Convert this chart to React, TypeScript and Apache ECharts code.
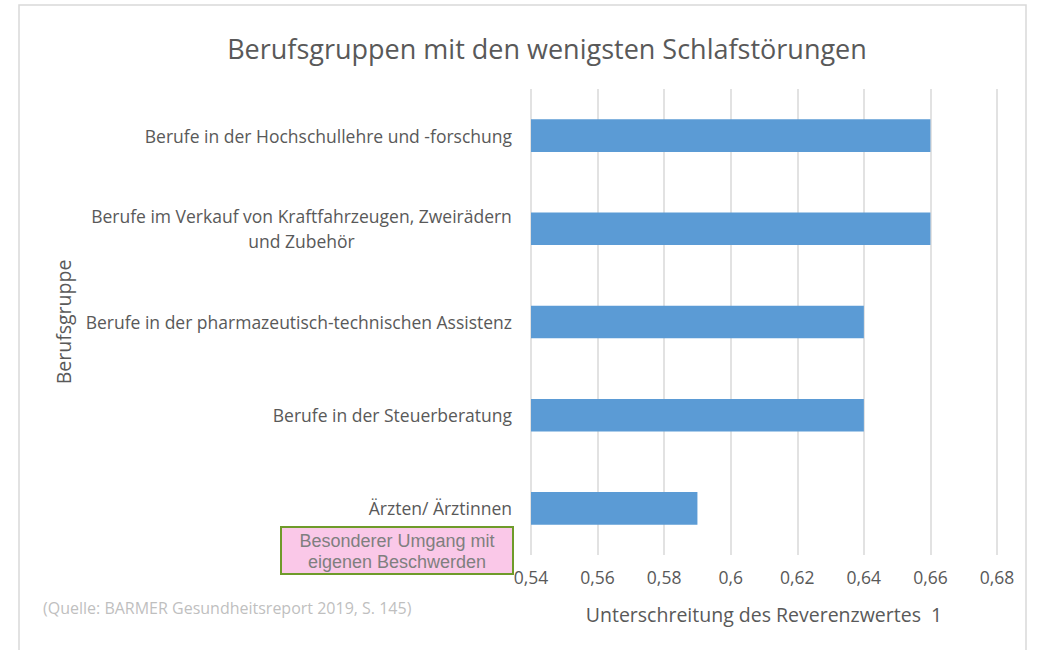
import React, { useEffect, useRef } from "react";
import * as echarts from "echarts";

const categories = [
  "Berufe in der Hochschullehre und -forschung",
  "Berufe im Verkauf von Kraftfahrzeugen, Zweirädern\nund Zubehör",
  "Berufe in der pharmazeutisch-technischen Assistenz",
  "Berufe in der Steuerberatung",
  "Ärzten/ Ärztinnen",
];
const values = [0.66, 0.66, 0.64, 0.64, 0.59];
const titleText = "Berufsgruppen mit den wenigsten Schlafstörungen";
const xAxisName = "Unterschreitung des Reverenzwertes  1";
const yAxisName = "Berufsgruppe";
const sourceText = "(Quelle: BARMER Gesundheitsreport 2019, S. 145)";
const noteText = "Besonderer Umgang mit\neigenen Beschwerden";

const FONT = "'Open Sans', sans-serif";
const LABEL_SIZE = 17.5;

function measure(text: string, size: number, family: string): number {
  const c = document.createElement("canvas").getContext("2d");
  if (!c) return text.length * size * 0.55;
  c.font = size + "px " + family;
  return c.measureText(text).width;
}

export default function App() {
  const ref = useRef<HTMLDivElement>(null);
  useEffect(() => {
    if (!ref.current) return;
    const chart = echarts.init(ref.current, null, { renderer: "svg" });
    chart.setOption({
      animation: false,
      backgroundColor: "#ffffff",
      title: {
        text: titleText,
        left: 542,
        top: 30,
        textAlign: "center",
        textStyle: { fontFamily: FONT, fontSize: 27, fontWeight: "normal", color: "#595959" },
      },
      grid: { left: 531, right: 47, top: 89, bottom: 95 },
      xAxis: {
        type: "value",
        min: 0.54,
        max: 0.68,
        interval: 0.02,
        name: xAxisName,
        nameLocation: "middle",
        nameGap: 49,
        nameTextStyle: { fontFamily: FONT, fontSize: 19.5, color: "#595959" },
        axisLine: { show: false },
        axisTick: { show: false },
        axisLabel: {
          fontFamily: FONT,
          fontSize: LABEL_SIZE,
          color: "#595959",
          margin: 13,
          formatter: (v: number) => String(Math.round(v * 100) / 100).replace(".", ","),
        },
        splitLine: { show: true, lineStyle: { color: "#d9d9d9", width: 1.5 } },
      },
      yAxis: {
        type: "category",
        inverse: true,
        data: categories,
        name: yAxisName,
        nameLocation: "middle",
        nameGap: 458,
        nameRotate: 90,
        nameTextStyle: { fontFamily: FONT, fontSize: 19.5, color: "#595959" },
        axisLine: { show: false },
        axisTick: { show: false },
        axisLabel: {
          fontFamily: FONT,
          fontSize: LABEL_SIZE,
          color: "#595959",
          margin: 19,
          lineHeight: 25,
          formatter: (v: string) => {
            if (v.indexOf("\n") >= 0) {
              const lines = v.split("\n");
              const w = Math.max(...lines.map((s) => measure(s, LABEL_SIZE, FONT)));
              return lines.map((s) => "{c" + Math.ceil(w) + "|" + s + "}").join("\n");
            }
            return v;
          },
          rich: (() => {
            const lines = categories.filter((c) => c.indexOf("\n") >= 0).map((c) => c.split("\n"));
            const r: Record<string, any> = {};
            lines.forEach((ls) => {
              const w = Math.ceil(Math.max(...ls.map((s) => measure(s, LABEL_SIZE, FONT))));
              r["c" + w] = {
                fontFamily: FONT,
                fontSize: LABEL_SIZE,
                color: "#595959",
                width: w,
                align: "center",
                lineHeight: 25,
              };
            });
            return r;
          })(),
        },
        splitLine: { show: false },
      },
      series: [
        {
          type: "bar",
          data: values,
          barWidth: "35%",
          itemStyle: { color: "#5B9BD5" },
        },
      ],
      graphic: [
        {
          type: "rect",
          silent: true,
          shape: { x: 19, y: 5, width: 1007, height: 660 },
          style: { fill: "none", stroke: "#d9d9d9", lineWidth: 1.5 },
          z: -1,
        },
        {
          type: "rect",
          shape: { x: 281, y: 527, width: 232, height: 47 },
          style: { fill: "#FAC8E8", stroke: "#6E9B2A", lineWidth: 2 },
        },
        {
          type: "text",
          x: 397,
          y: 551,
          style: {
            text: noteText,
            fontFamily: "'Liberation Sans', Arial, sans-serif",
            fontSize: 18,
            fill: "#7f7f7f",
            align: "center",
            verticalAlign: "middle",
            lineHeight: 21,
          },
        },
        {
          type: "text",
          x: 43,
          y: 608,
          style: {
            text: sourceText,
            fontFamily: FONT,
            fontSize: 16,
            fill: "#bfbfbf",
            align: "left",
            verticalAlign: "middle",
          },
        },
      ],
    });
    return () => chart.dispose();
  }, []);
  return (
    <div
      ref={ref}
      style={{ position: "fixed", left: 0, top: 0, width: 1044, height: 650 }}
    />
  );
}
